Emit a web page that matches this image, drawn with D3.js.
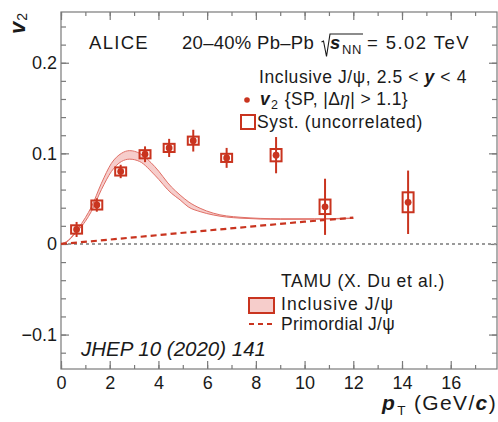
<!DOCTYPE html>
<html>
<head>
<meta charset="utf-8">
<script src="https://cdn.jsdelivr.net/npm/d3@7"></script>
<style>
  body { margin: 0; background: #fff; }
  svg text { font-family: "Liberation Sans", Arial, Helvetica, sans-serif; fill: #1a1a1a; white-space: pre; }
</style>
</head>
<body>
<svg id="chart" width="498" height="422"></svg>
<script>
// ALICE inclusive J/psi v2 vs pT (20-40%)
const ptPoints = [0.64, 1.47, 2.45, 3.45, 4.44, 5.43, 6.8, 8.83, 10.84, 14.25];
const v2Points = [0.016, 0.043, 0.080, 0.099, 0.106, 0.114, 0.095, 0.098, 0.041, 0.046];
const statErr  = [0.0083, 0.0074, 0.0074, 0.0087, 0.010, 0.012, 0.011, 0.020, 0.031, 0.035];
const systErr  = [0.0046, 0.005, 0.0045, 0.0045, 0.0045, 0.0045, 0.0045, 0.0068, 0.008, 0.011];
const systHalfWidth = 0.225;

// TAMU model, inclusive J/psi band
const bandPt = [0, 0.3, 0.5, 0.7, 1.0, 1.25, 1.66, 2.07, 2.48, 2.82, 3.23, 3.85, 4.53, 4.89, 5.22, 5.71, 6.25, 7.35, 9.0, 10.4, 12.0];
const bandHi = [0, 0.004, 0.010, 0.017, 0.029, 0.041, 0.067, 0.089, 0.100, 0.103, 0.100, 0.0854, 0.063, 0.054, 0.0468, 0.0394, 0.034, 0.0295, 0.0278, 0.0278, 0.0286];
const bandLo = [0, 0.0035, 0.009, 0.015, 0.025, 0.036, 0.060, 0.080, 0.091, 0.0936, 0.091, 0.076, 0.056, 0.0486, 0.041, 0.0357, 0.032, 0.0285, 0.0272, 0.0273, 0.0282];

// TAMU model, primordial J/psi
const primPt = [0, 2, 4, 6, 8, 10, 12];
const primV2 = [0, 0.0048, 0.0098, 0.0148, 0.0197, 0.0246, 0.0290];

const xMajor = [0, 2, 4, 6, 8, 10, 12, 14, 16];
const yMajor = [-0.1, 0, 0.1, 0.2];
const yLabels = ["\u22120.1", "0", "0.1", "0.2"];

const red = "#c9341f";
const pink = "#f6cdcb";
const axisGray = "#7a7a7a";

const svg = d3.select("#chart");
const L = 61, R = 497, T = 12, B = 369;

const x = d3.scaleLinear().domain([0, 17.9]).range([L, R]);
const y = d3.scaleLinear().domain([-0.138, 0.256]).range([B, T]);

// frame
svg.append("rect")
  .attr("x", L).attr("y", T).attr("width", R - L).attr("height", B - T)
  .attr("fill", "none").attr("stroke", axisGray).attr("stroke-width", 1.2);

// axes: major + minor ticks on all four sides
function styleAxis(g) {
  g.select(".domain").remove();
  g.selectAll(".tick line").attr("stroke", axisGray).attr("stroke-width", 1.2);
  g.selectAll(".tick text").style("font-size", "18px").attr("fill", "#1a1a1a");
}
const xMinor = d3.range(0, 18, 1);
const yMinor = d3.range(-0.12, 0.26, 0.02);

svg.append("g").attr("transform", `translate(0,${B})`)
  .call(d3.axisBottom(x).tickValues(xMinor).tickSizeInner(-4).tickSizeOuter(0).tickFormat(""))
  .call(styleAxis);
svg.append("g").attr("transform", `translate(0,${B})`)
  .call(d3.axisBottom(x).tickValues(xMajor).tickSizeInner(-8).tickSizeOuter(0).tickPadding(7).tickFormat(d3.format("d")))
  .call(styleAxis);
svg.append("g").attr("transform", `translate(0,${T})`)
  .call(d3.axisTop(x).tickValues(xMinor).tickSizeInner(-4).tickSizeOuter(0).tickFormat(""))
  .call(styleAxis);
svg.append("g").attr("transform", `translate(0,${T})`)
  .call(d3.axisTop(x).tickValues(xMajor).tickSizeInner(-8).tickSizeOuter(0).tickFormat(""))
  .call(styleAxis);

svg.append("g").attr("transform", `translate(${L},0)`)
  .call(d3.axisLeft(y).tickValues(yMinor).tickSizeInner(-5).tickSizeOuter(0).tickFormat(""))
  .call(styleAxis);
svg.append("g").attr("transform", `translate(${L},0)`)
  .call(d3.axisLeft(y).tickValues(yMajor).tickSizeInner(-8).tickSizeOuter(0).tickPadding(4)
    .tickFormat((d, i) => yLabels[i]))
  .call(styleAxis);
svg.append("g").attr("transform", `translate(${R},0)`)
  .call(d3.axisRight(y).tickValues(yMinor).tickSizeInner(-5).tickSizeOuter(0).tickFormat(""))
  .call(styleAxis);
svg.append("g").attr("transform", `translate(${R},0)`)
  .call(d3.axisRight(y).tickValues(yMajor).tickSizeInner(-8).tickSizeOuter(0).tickFormat(""))
  .call(styleAxis);

// zero line
svg.append("line")
  .attr("x1", L + 1).attr("x2", R - 1).attr("y1", y(0)).attr("y2", y(0))
  .attr("stroke", "#9a9a9a").attr("stroke-width", 2).attr("stroke-dasharray", "3,3");

// model band
const bandData = bandPt.map((p, i) => ({ p, lo: bandLo[i], hi: bandHi[i] }));
svg.append("path")
  .datum(bandData)
  .attr("fill", pink)
  .attr("d", d3.area().x(d => x(d.p)).y0(d => y(d.lo)).y1(d => y(d.hi)).curve(d3.curveMonotoneX));
["lo", "hi"].forEach(k => {
  svg.append("path")
    .datum(bandData)
    .attr("fill", "none").attr("stroke", "#e06f66").attr("stroke-width", 1)
    .attr("d", d3.line().x(d => x(d.p)).y(d => y(d[k])).curve(d3.curveMonotoneX));
});

// primordial dashed line
svg.append("path")
  .datum(primPt.map((p, i) => ({ p, v: primV2[i] })))
  .attr("fill", "none").attr("stroke", red).attr("stroke-width", 2.2)
  .attr("stroke-dasharray", "6,4")
  .attr("d", d3.line().x(d => x(d.p)).y(d => y(d.v)));

// data points
const pts = ptPoints.map((p, i) => ({ p, v: v2Points[i], s: statErr[i], sy: systErr[i] }));
const gPts = svg.append("g");
gPts.selectAll("line.stat").data(pts).join("line")
  .attr("class", "stat")
  .attr("x1", d => x(d.p)).attr("x2", d => x(d.p))
  .attr("y1", d => y(d.v - d.s)).attr("y2", d => y(d.v + d.s))
  .attr("stroke", red).attr("stroke-width", 2);
gPts.selectAll("rect.syst").data(pts).join("rect")
  .attr("class", "syst")
  .attr("x", d => x(d.p - systHalfWidth)).attr("width", d => x(d.p + systHalfWidth) - x(d.p - systHalfWidth))
  .attr("y", d => y(d.v + d.sy)).attr("height", d => y(d.v - d.sy) - y(d.v + d.sy))
  .attr("fill", "none").attr("stroke", red).attr("stroke-width", 2);
gPts.selectAll("circle").data(pts).join("circle")
  .attr("cx", d => x(d.p)).attr("cy", d => y(d.v)).attr("r", 3.4)
  .attr("fill", red);

// rich text helper: pieces placed one after another,
// optionally spaced out (letter-spacing) to fill a given width
function rich(g, x0, y0, parts, opt = {}) {
  const nodes = parts.map(p => g.append("text")
    .attr("y", y0 + (p.dy || 0))
    .style("font-size", (p.size || 16) + "px")
    .style("font-style", p.italic ? "italic" : "normal")
    .style("font-weight", p.bold ? "bold" : "normal")
    .text(p.t));
  const widths = nodes.map(n => n.node().getComputedTextLength());
  const gaps = parts.reduce((s, p) => s + (p.gap || 0), 0);
  const natural = d3.sum(widths) + gaps;
  const nch = d3.sum(parts, p => p.t.length);
  let ls = 0;
  if (opt.width) {
    ls = (opt.width - natural) / nch;
    nodes.forEach(n => n.style("letter-spacing", ls + "px"));
  }
  const total = natural + ls * nch;
  let cx = opt.anchor === "end" ? x0 - total : x0;
  const start = cx;
  nodes.forEach((n, i) => {
    cx += parts[i].gap || 0;
    n.attr("x", cx);
    cx += widths[i] + ls * parts[i].t.length;
  });
  return { start, end: cx };
}

// title
const tg = svg.append("g");
rich(tg, 89, 48.5, [{ t: "ALICE", size: 18.5 }], { width: 60 });
rich(tg, 182, 48.5, [{ t: "20\u201340% Pb\u2013Pb", size: 18.5 }], { width: 132 });
const sq0 = 321.5;
const t2 = rich(tg, 330, 48.5, [
  { t: "s", size: 18.5, bold: true, italic: true },
  { t: "NN", size: 13, dy: 5, gap: 1 }
], { width: 32 });
tg.append("path")
  .attr("d", `M${sq0},42 L${sq0 + 2},41 L${sq0 + 5},56.5 L${sq0 + 8.5},34 L${t2.end + 1},34`)
  .attr("fill", "none").attr("stroke", "#1a1a1a").attr("stroke-width", 1.1);
rich(tg, 367, 48.5, [{ t: "= 5.02 TeV", size: 18.5 }], { width: 103 });

// legend (data)
const lg = svg.append("g");
rich(lg, 259, 83, [
  { t: "Inclusive J/\u03c8, 2.5 < ", size: 17.5 },
  { t: "y", size: 17.5, bold: true, italic: true },
  { t: " < 4", size: 17.5 }
], { width: 208 });
lg.append("circle").attr("cx", 247).attr("cy", 100).attr("r", 2.8).attr("fill", red);
rich(lg, 260, 105, [
  { t: "v", size: 17.5, bold: true, italic: true },
  { t: "2", size: 12.5, dy: 4, gap: 1 },
  { t: " {SP, |\u0394", size: 17.5, gap: 1 },
  { t: "\u03b7", size: 17.5, italic: true },
  { t: "| > 1.1}", size: 17.5 }
], { width: 148 });
lg.append("rect").attr("x", 241).attr("y", 115).attr("width", 14).attr("height", 14)
  .attr("fill", "none").attr("stroke", red).attr("stroke-width", 2);
rich(lg, 257, 127.5, [{ t: "Syst. (uncorrelated)", size: 17.5 }], { width: 166 });

// legend (model)
rich(lg, 281, 287, [{ t: "TAMU (X. Du et al.)", size: 17.5 }], { width: 164 });
lg.append("rect").attr("x", 249).attr("y", 298).attr("width", 25).attr("height", 15)
  .attr("fill", pink).attr("stroke", red).attr("stroke-width", 2);
rich(lg, 281, 310, [{ t: "Inclusive J/\u03c8", size: 17.5 }], { width: 113 });
lg.append("line").attr("x1", 249).attr("x2", 275).attr("y1", 324).attr("y2", 324)
  .attr("stroke", red).attr("stroke-width", 2.2).attr("stroke-dasharray", "5,4");
rich(lg, 281, 330, [{ t: "Primordial J/\u03c8", size: 17.5 }], { width: 114 });

// reference
rich(svg, 81, 356, [{ t: "JHEP 10 (2020) 141", size: 20.5, italic: true }], { width: 185 });

// axis titles
rich(svg, 497, 410, [
  { t: "p", size: 21, bold: true, italic: true },
  { t: "T", size: 13.5, dy: 5, gap: 1 },
  { t: " (GeV/", size: 21 },
  { t: "c", size: 21, bold: true, italic: true },
  { t: ")", size: 21 }
], { anchor: "end", width: 115 });

const yt = svg.append("g").attr("transform", "translate(25,34) rotate(-90)");
rich(yt, 0, 0, [
  { t: "v", size: 22, bold: true, italic: true },
  { t: "2", size: 14, dy: 2, gap: 1 }
]);
</script>
</body>
</html>
